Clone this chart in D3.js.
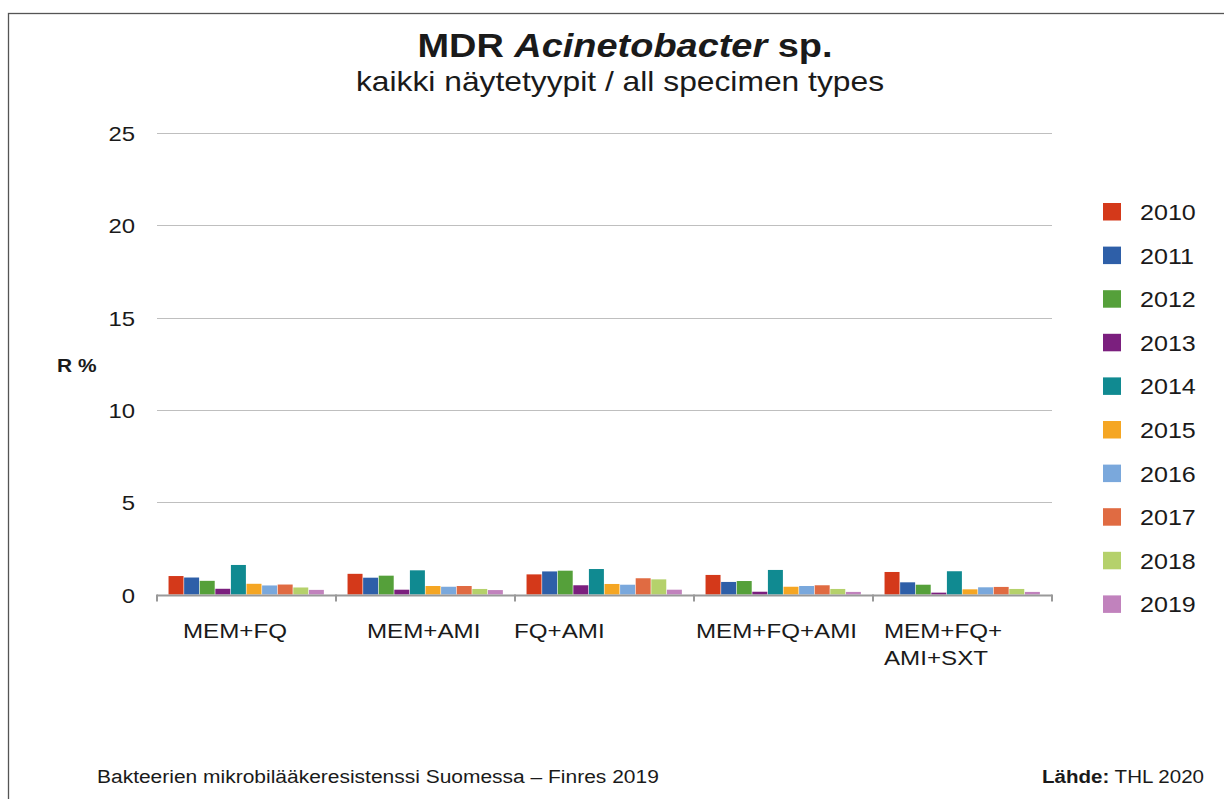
<!DOCTYPE html>
<html><head><meta charset="utf-8">
<script src="https://cdn.jsdelivr.net/npm/d3@7/dist/d3.min.js"></script>
<style>body{margin:0;background:#fff;} text{font-family:"Liberation Sans",Arial,sans-serif;fill:#1a1a1a;}</style>
</head><body>
<svg id="c" width="1224" height="799"></svg>
<script>
const categories = [["MEM+FQ"],["MEM+AMI"],["FQ+AMI"],["MEM+FQ+AMI"],["MEM+FQ+","AMI+SXT"]];
const years = ["2010","2011","2012","2013","2014","2015","2016","2017","2018","2019"];
const colors = ["#d4391a","#2e5fa8","#55a03a","#7b1f7e","#108a91","#f5a623","#7aa8dc","#e06b42","#b5d16b","#c182bd"];
const values = [
  [1.00,0.92,0.74,0.31,1.60,0.58,0.49,0.54,0.38,0.25],
  [1.12,0.91,1.02,0.26,1.31,0.46,0.42,0.46,0.30,0.24],
  [1.09,1.25,1.29,0.50,1.38,0.57,0.53,0.88,0.82,0.26],
  [1.06,0.68,0.73,0.15,1.33,0.42,0.46,0.50,0.30,0.14],
  [1.22,0.66,0.53,0.10,1.26,0.28,0.39,0.41,0.30,0.14]
];
const yTicks = [0,5,10,15,20,25];
const labelOffsets = [26,31,-1,2,11];

const svg = d3.select("#c");
svg.append("rect").attr("x",8.5).attr("y",13.5).attr("width",1240).attr("height",820)
  .attr("fill","none").attr("stroke","#555").attr("stroke-width",1.3);

const x0 = d3.scaleBand().domain(d3.range(categories.length)).range([157,1052]).paddingInner(0).paddingOuter(0);
const x1 = d3.scaleBand().domain(years).range([0,x0.bandwidth()]).paddingOuter(0.74).paddingInner(0);
const y = d3.scaleLinear().domain([0,25]).range([594.5,133]);

svg.append("g").selectAll("line").data(yTicks.filter(d=>d>0)).join("line")
  .attr("x1",157).attr("x2",1052).attr("y1",d=>Math.round(y(d))+0.5).attr("y2",d=>Math.round(y(d))+0.5)
  .attr("stroke","#bfbfbf").attr("stroke-width",1.2);

svg.append("g").selectAll("text").data(yTicks).join("text").attr("data-s",1.14)
  .attr("x",135).attr("y",d=>y(d)+8).attr("text-anchor","end").attr("font-size",21).text(d=>d);

const g = svg.append("g");
values.forEach((row,i)=>{
  g.selectAll(null).data(row).join("rect")
    .attr("x",(d,j)=>x0(i)+x1(years[j]))
    .attr("width",x1.bandwidth()-0.6)
    .attr("y",d=>y(d)).attr("height",d=>y(0)-y(d))
    .attr("fill",(d,j)=>colors[j]);
});

svg.append("line").attr("x1",157).attr("x2",1052).attr("y1",y(0)+1).attr("y2",y(0)+1).attr("stroke","#999").attr("stroke-width",2);
svg.append("g").selectAll("line").data(d3.range(categories.length+1)).join("line")
  .attr("x1",d=>157+d*x0.bandwidth()).attr("x2",d=>157+d*x0.bandwidth())
  .attr("y1",y(0)).attr("y2",y(0)+7).attr("stroke","#999").attr("stroke-width",2);

categories.forEach((lines,i)=>{
  lines.forEach((l,k)=>svg.append("text").attr("data-s",1.15).attr("x",x0(i)+labelOffsets[i]).attr("y",638+k*27).attr("font-size",21).text(l));
});

svg.append("text").attr("data-s",1.1).attr("x",57).attr("y",372).attr("font-size",19).attr("font-weight","bold").text("R %");

const title = svg.append("text").attr("data-s",1.115).attr("x",625).attr("y",57).attr("text-anchor","middle").attr("font-size",34).attr("font-weight","bold");
title.append("tspan").text("MDR ");
title.append("tspan").attr("font-style","italic").text("Acinetobacter");
title.append("tspan").text(" sp.");
svg.append("text").attr("data-s",1.135).attr("x",620).attr("y",91).attr("text-anchor","middle").attr("font-size",28).text("kaikki näytetyypit / all specimen types");

const leg = svg.append("g").selectAll("g").data(years).join("g")
  .attr("transform",(d,i)=>`translate(1103,${203+i*43.6})`);
leg.append("rect").attr("width",18).attr("height",17.5).attr("fill",(d,i)=>colors[i]);
leg.append("text").attr("data-s",1.14).attr("x",37).attr("y",17).attr("font-size",22).text(d=>d);

svg.append("text").attr("data-s",1.165).attr("x",97).attr("y",783).attr("font-size",18).text("Bakteerien mikrobilääkeresistenssi Suomessa – Finres 2019");
const src = svg.append("text").attr("data-s",1.14).attr("x",1204).attr("y",783).attr("text-anchor","end").attr("font-size",18);
src.append("tspan").attr("font-weight","bold").text("Lähde:");
src.append("tspan").text(" THL 2020");

svg.selectAll("text").each(function(){
  const s = +this.getAttribute("data-s") || 1.14;
  const w = this.getComputedTextLength();
  this.setAttribute("textLength", (w*s).toFixed(1));
  this.setAttribute("lengthAdjust","spacingAndGlyphs");
});
</script>
</body></html>
